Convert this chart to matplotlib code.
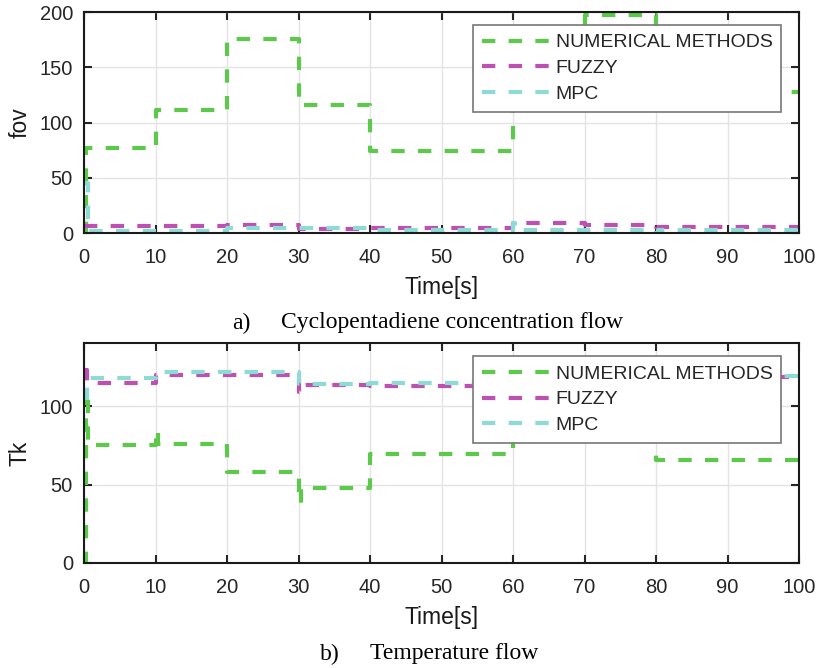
import matplotlib
matplotlib.use("Agg")
import matplotlib.pyplot as plt

# --- donnees ---
# a) debit de cyclopentadiene (fov)
t_num_a = [0, 0.3, 10, 20, 30, 40, 60, 70, 80, 90, 100]
v_num_a = [0, 77, 111, 176, 116, 74, 150, 197, 160, 128, 128]
t_fuz_a = [0, 20, 30, 40, 60, 70, 80, 100]
v_fuz_a = [6.3, 7, 3.3, 5, 9.3, 7.5, 5.4, 5.4]
t_mpc_a = [0, 0.5, 20, 40, 60, 60.3, 80, 80.3, 100]
v_mpc_a = [45, 1.8, 4.2, 2.4, 9, 2.7, 0, 3, 3]

# b) temperature (Tk)
t_num_b = [0, 0.3, 0.6, 10, 10.3, 20, 30, 30.3, 40, 60, 80, 100]
v_num_b = [0, 110, 75, 85, 76, 58, 38, 48, 69.5, 85, 65.6, 65.6]
t_fuz_b = [0, 0.4, 10, 30, 30.3, 40, 60, 80, 100]
v_fuz_b = [123, 114.6, 119.5, 109, 113.7, 112.6, 116, 118.5, 118.5]
t_mpc_b = [0, 0.4, 10, 30, 40, 60, 80, 100]
v_mpc_b = [105, 117.7, 121.5, 114, 114.8, 117, 119, 120.5]

noms = ["NUMERICAL METHODS", "FUZZY", "MPC"]
couleurs = ["#5dc94b", "#be4fb3", "#8edbd5"]

plt.rcParams["font.family"] = ["Liberation Sans", "DejaVu Sans"]


def tracer(ax, series, ylim, yticks, ylabel):
    for (t, v), nom, c in zip(series, noms, couleurs):
        ax.plot(t, v, drawstyle="steps-post", color=c, lw=3,
                dashes=(3.2, 3.2), label=nom)
    ax.set_xlim(0, 100)
    ax.set_ylim(*ylim)
    ax.set_xticks(range(0, 101, 10))
    ax.set_yticks(yticks)
    ax.tick_params(direction="in", length=6, width=1.5, top=True, right=True,
                   labelsize=14.5, colors="#262626")
    ax.tick_params(axis="x", pad=11)
    ax.tick_params(axis="y", pad=8)
    for s in ax.spines.values():
        s.set_linewidth(1.5)
        s.set_color("#1a1a1a")
    ax.grid(True, color="#e3e3e3", lw=1)
    ax.set_axisbelow(True)
    ax.set_xlabel("Time[s]", fontsize=16.5, labelpad=6, color="#1a1a1a")
    ax.set_ylabel(ylabel, fontsize=16.5, labelpad=6, color="#1a1a1a")
    leg = ax.legend(loc="upper right", bbox_to_anchor=(0.975, 0.941),
                    borderaxespad=0, fontsize=14, handlelength=3.6,
                    handletextpad=0.2, labelspacing=0.42, fancybox=False,
                    framealpha=1, edgecolor="#777777", borderpad=0.45,
                    labelcolor="#262626")
    leg.get_frame().set_linewidth(1.2)


fig = plt.figure(figsize=(8.19, 6.68), dpi=100)
ax1 = fig.add_axes([0.1026, 0.651, 0.873, 0.331])
ax2 = fig.add_axes([0.1026, 0.1572, 0.873, 0.329])

tracer(ax1, [(t_num_a, v_num_a), (t_fuz_a, v_fuz_a), (t_mpc_a, v_mpc_a)],
       (0, 200), [0, 50, 100, 150, 200], "fov")
tracer(ax2, [(t_num_b, v_num_b), (t_fuz_b, v_fuz_b), (t_mpc_b, v_mpc_b)],
       (0, 140), [0, 50, 100], "Tk")

# legendes sous les graphes
serif = dict(family="Liberation Serif", fontsize=17, va="center")
fig.text(232 / 819, 1 - 323 / 668, "a)", **serif)
fig.text(281 / 819, 1 - 323 / 668, "Cyclopentadiene concentration flow", **serif)
fig.text(320 / 819, 1 - 654 / 668, "b)", **serif)
fig.text(370 / 819, 1 - 654 / 668, "Temperature flow", **serif)

fig.savefig("out.png", dpi=100)
